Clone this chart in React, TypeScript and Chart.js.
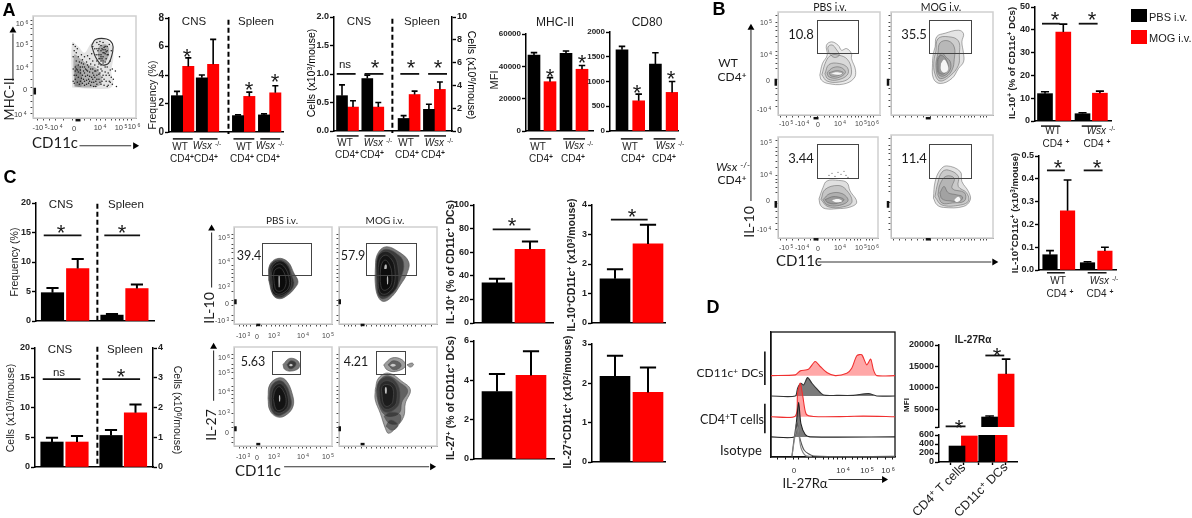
import React, { useEffect, useRef } from "react";
import { Chart, registerables } from "chart.js";
Chart.register(...registerables);

// ---------- bar data ----------
const aFreqBlack = [2.55, 3.8, 1.15, 1.2];
const aFreqRed = [4.6, 4.75, 2.5, 2.75];
const aFreqBlackErr = [2.85, 4.0, 1.2, 1.27];
const aFreqRedErr = [5.2, 6.5, 2.8, 3.25];
const aCellsCnsBlack = [0.62, 0.92];
const aCellsCnsRed = [0.42, 0.42];
const aCellsCnsBlackErr = [0.81, 0.98];
const aCellsCnsRedErr = [0.53, 0.5];
const aCellsSpleenBlack = [1.1, 1.9];
const aCellsSpleenRed = [3.2, 3.65];
const aCellsSpleenBlackErr = [1.35, 2.35];
const aCellsSpleenRedErr = [3.5, 4.3];
const aMhcBlack = [47000, 48000];
const aMhcRed = [30500, 38200];
const aMhcBlackErr = [48500, 49500];
const aMhcRedErr = [33000, 40500];
const aCd80Black = [1640, 1350];
const aCd80Red = [610, 780];
const aCd80BlackErr = [1710, 1580];
const aCd80RedErr = [745, 1000];
const bPctBlack = [12, 3.2];
const bPctRed = [39, 12.2];
const bPctBlackErr = [12.8, 3.6];
const bPctRedErr = [42.5, 13.1];
const bCellsBlack = [0.067, 0.032];
const bCellsRed = [0.26, 0.083];
const bCellsBlackErr = [0.085, 0.036];
const bCellsRedErr = [0.395, 0.1];
const cFreqBlack = [4.8, 1.0];
const cFreqRed = [8.9, 5.5];
const cFreqBlackErr = [5.6, 1.2];
const cFreqRedErr = [10.5, 6.2];
const cCellsCnsBlack = [4.2];
const cCellsCnsRed = [4.2];
const cCellsCnsBlackErr = [4.9];
const cCellsCnsRedErr = [5.2];
const cCellsSpleenBlack = [1.06];
const cCellsSpleenRed = [1.82];
const cCellsSpleenBlackErr = [1.24];
const cCellsSpleenRedErr = [2.1];
const cIl10PctBlack = [34];
const cIl10PctRed = [62.5];
const cIl10PctBlackErr = [37.5];
const cIl10PctRedErr = [69];
const cIl10CellsBlack = [1.5];
const cIl10CellsRed = [2.68];
const cIl10CellsBlackErr = [1.82];
const cIl10CellsRedErr = [3.33];
const cIl27PctBlack = [3.43];
const cIl27PctRed = [4.25];
const cIl27PctBlackErr = [4.32];
const cIl27PctRedErr = [5.48];
const cIl27CellsBlack = [2.18];
const cIl27CellsRed = [1.77];
const cIl27CellsBlackErr = [2.7];
const cIl27CellsRedErr = [2.4];
const dMfiBlack = [355, 3180];
const dMfiRed = [578, 13200];
const dMfiBlackErr: (number | null)[] = [null, 3420];
const dMfiRedErr: (number | null)[] = [null, 16700];

// ---------- flow data (plot units, 0-100 both ways) ----------
const aGate = [56.9, 71.1, 60.7, 76.9, 71.4, 77.4, 77.1, 72.7, 77.4, 65, 73.3, 53.6, 66.9, 52.1, 60.7, 59.9];
const aLayers = [
  [38, 30, 38, 74, 44, 70, 50, 64, 57, 74, 65, 78, 76, 72, 78, 60, 76, 45, 78, 33, 74, 29, 50, 29],
  [40, 31, 40, 62, 46, 58, 54, 52, 60, 50, 66, 42, 66, 33, 56, 30],
  [41, 31, 41, 52, 46, 50, 47, 31],
  [63, 60, 64, 70, 71, 72, 74, 66, 71, 56, 66, 56],
];
const aDots = [39,72,40,66,39,60,41,70,42,64,43,68,44,60,42,56,45,55,47,62,46,50,48,57,50,60,49,53,51,48,52,55,53,61,54,50,55,58,55,45,56,53,57,63,58,48,58,56,59,42,60,52,60,62,61,46,62,56,62,38,63,66,63,50,64,43,64,72,65,58,65,35,66,62,66,48,67,68,67,40,68,54,68,74,69,32,69,64,70,45,70,70,71,58,71,36,72,66,72,50,73,32,73,62,74,42,74,72,75,56,75,35,76,66,77,48,77,33,78,38,50,36,52,33,54,38,56,32,57,40,59,35,61,31,48,42,46,36,44,45,50,44,53,42,80,46,84,60,81,31,65,75,62,74,58,70,66,66,68,60,70,63,67,58,69,69,71,65,64,62,
  40,34,41,38,42,42,43,35,44,40,45,33,46,44,47,39,48,34,49,46,49,38,50,32,51,41,52,37,53,46,54,34,55,41,55,36,56,48,57,35,58,44,58,38,59,31,60,40,60,46,61,36,62,42,62,33,63,47,64,38,64,53,65,44,66,33,66,52,67,36,67,46,68,42,69,38,70,50,71,42,72,31,73,44,74,36,75,47,76,40,
  42,48,44,52,46,47,47,54,48,50,50,50,52,47,53,52,41,46,41,50,43,47,40,42,39,36,39,48,62,68,64,68,66,71,68,67,70,67,66,60,68,64,72,62,72,70,60,68,62,62,64,58,66,56,68,56,70,55];
const bWtPbs = [
  [41,38.7,43.6,50,48.2,58,47.5,67.7,52.5,71,59,67.7,62.3,62.9,67.2,64.5,72,59.7,72,54.8,76,43.5,74.4,35.5,64,30,49,30.6,42.6,33.9],
  [50,60,49,66,53,68,57,64,60,58,55,56],
  [43,39,47,52,52,58,60,58,68,54,72,44,70,36,60,32,48,33],
  [46,40,50,49,60,50,68,46,68,39,58,34,49,35],
  [48,41,54,46,62,46,66,41,58,36,50,37],
  [50,41,58,43,64,41,58,38,52,38],
];
const bWtPbsCore = [[52,40.5,58,41.5,63,40,58,39]];
const bWtMog = [
  [43.3,66.1,44.9,76.1,53.1,79.4,66.2,82.3,71.1,79,69.5,71,71.1,59.7,71.1,51.6,66.2,45.2,59.7,35.5,48.2,30.6,41.6,35.5,40.7,50,41.6,59.7],
  [44,62,46,74,56,76,66,72,67,58,66,48,58,38,48,33,43,40,42,52],
  [46,60,48,70,56,72,62,66,62,54,60,44,54,37,47,36,44,48],
  [46,56,50,60,54,56,58,52,58,44,52,38,47,39,45,48],
  [46,54,49,58,54,54,56,46,52,40,47,41,46,48],
];
const bWtMogCore = [[49,50,52,54,55,50,56,44,52,41,49,44]];
const bWsxPbs = [
  [41,38.7,45,50,49,56.5,60.7,57,68.9,54.8,72,46.8,78.7,35.5,72,30.6,59,29,47.5,29,42.6,32.3],
  [43,38,47,48,60,52,68,48,74,36,66,31,50,31],
  [45,38,52,44,64,44,70,37,60,32,49,33],
  [47,38,56,41,66,38,58,34,50,35],
];
const bWsxPbsCore = [[54,37.5,60,38.5,64,36.5,58,35.5]];
const bWsxPbsDots = [51,62,54,64,57,61,60,65,63,63,66,66,68,62,70,60];
const bWsxMog = [
  [41.6,38.7,43.3,54.8,48.2,66,54.7,70,67.9,64.5,69.5,54.8,76,45,77.7,37,71,30.6,51.5,29.7,45,32.3],
  [43,40,46,54,50,64,56,66,66,60,66,50,74,44,76,36,68,32,50,32],
  [46,42,48,52,54,60,62,58,60,48,72,44,72,36,60,34,50,34],
  [48,44,52,50,56,44,64,42,70,40,68,36,58,36,50,38],
];
const bWsxMogCore = [[62,37,66,40,68,37,64,35]];
const cIl10Pbs = [
  [35.4,45.4,36.4,60.8,44.9,67.6,55,64,61.2,52.2,65.3,43.7,61.9,36.9,55,30,46.6,26,39.8,30],
  [36,45,37,60,45,66,54,62,59,50,61,40,54,31,46,27,40,31],
  [38,42,38,58,46,65,54,61,58,50,58,38,52,31,44,29,39,33],
  [39,42,39,56,46,62,52,58,56,48,56,38,50,32,44,31,40,35],
  [41,42,41,54,46,58,50,55,53,46,52,38,48,34,43,35],
];
const cIl10PbsCore = [[45.5,38,45.5,50,46.6,50,46.6,38]];
const cIl10Mog = [
  [37,55.6,38.8,71,47.3,79.5,60.9,74.4,71,64.2,69.4,52.2,62.6,40.3,54,28.3,45.6,23.2,39.8,28.3,37,42],
  [38,50,40,70,48,77,62,70,66,62,64,50,56,34,46,26,40,30],
  [39,40,39,68,47,75,56,70,60,60,60,40,52,30,44,28,40,32],
  [40,42,41,64,47,71,54,66,57,56,56,40,50,32,44,31,41,35],
  [42,44,43,60,47,66,52,60,54,50,53,40,48,35,44,36],
];
const cIl10MogCore = [[46,57,47,61,48.5,61,48.5,57],[49,41,49,49,50,49,50,41]];
const cIl27Pbs = [
  [34.7,48.3,36.4,61.8,44.9,68.6,52.4,66.9,59.2,53.4,60.2,39.9,51.7,30.4,43.2,29.7,36.4,36.5],
  [36,48,38,60,45,66,52,63,57,52,58,40,50,32,43,31,38,37],
  [38,48,40,58,46,63,51,60,55,50,55,40,49,34,43,34,39,39],
  [40,48,42,56,46,60,50,56,53,48,52,40,47,36,43,37],
  [50,82.4,56.8,88.5,65.3,85.8,66.3,79,58.5,75.7,51.7,77.4],
  [54,82,58,86,63,84,62,80,57,78],
];
const cIl27PbsCore = [[46,45,46,51,47,51,47,45],[56,81.5,58,83,60,81.5,58,80.5]];
const cIl27Mog = [
  [37,56.8,40.4,68.6,50.6,73.6,64.3,65.2,72.8,56.8,67.7,43.3,66,29.7,57.5,17.9,50.6,12.8,47.3,17.9,42.2,33,37,46.6],
  [38,56,42,67,50,71,62,64,70,56,64,44,62,34,54,30,46,32,40,44],
  [39,50,40,64,50,70,60,62,62,46,58,38,48,34,42,40],
  [41,50,42,62,50,66,58,60,59,46,56,40,48,37,43,42],
  [44,50,44,60,50,62,55,58,55,46,53,42,48,40,45,44],
  [46,30,52,34,62,32,62,24,56,22,50,24],
  [48,20,52,26,58,24,60,20,54,16],
  [45.6,82,54,88.9,64.3,87.2,67.7,80.4,57.5,75.3,49,77],
  [50,82,55,86,62,84,63,80,56,77],
  [69.4,82,74.5,83.8,76,82,72.8,79.7],
];
const cIl27MogCore = [[47,53,47,59,48.5,59,48.5,53],[52,81.5,55,83,58,81.5,55,80]];

// ---------- histogram data (x, height in plot units) ----------
const histMogDc = [0,65.1,19.6,65.7,23.6,68.9,30.2,70.2,35.6,76.4,39.7,72.4,45,67.6,51.7,65.1,61.1,67,65.1,71,69.2,81,73.2,81.8,77.2,73.7,80.4,78.3,82.6,69.7,85.3,65.1,100,65.1];
const histPbsDc = [0,48.8,19.6,48.8,21.4,54.9,24.1,59,26.3,57.6,29.5,63.5,33,59,37,54.5,42.4,49.6,53.1,49.3,66.5,49.3,78.6,50.7,85.3,48.8,100,48.8];
const histMogT = [0,32.2,19.6,32.7,21.4,50.9,23.6,59,25.7,48.3,28.4,34.3,34.3,32.4,61.1,32.4,74.5,32.7,100,32.2];
const histPbsT = [0,16.1,18.8,16.1,20.4,26.8,22.3,43.7,24.1,26.8,27.6,18,31.6,16.1,100,16.1];
const histIso1 = [16.9,0.5,18.8,16,20.9,28.2,23,16,26.8,5.4,34.3,0.8,100,0.5];
const histIso2 = [16.9,0.5,19.6,18,21.6,24,24,8,28,1,33,0.5];

const flowXTicksB = [2,8,14,20,26,32,39,46,50,54,58,61,68,72,76,79,82,88,91,94];
const flowYTicksB = [8,14,20,26,34,45,50,55,58,62,70,76,82,86,90,97];
const flowXTicksC = [6,10,13,17,23,28,33,38,42,46,50,54,58,66,70,74,78,84,88,94];
const flowYTicksC = [4,9,19,24,33,44,48,52,56,60,68,74,78,82,88,92];
const histTicks = [5,12,18,22,30,36,42,46,50,54,58,60,66,70,74,78,80,86,92,98];

// ---------- helpers ----------
const toPts = (a: number[]) => {
  const o: { x: number; y: number }[] = [];
  for (let i = 0; i + 1 < a.length; i += 2) o.push({ x: a[i], y: a[i + 1] });
  return o;
};
const closed = (a: number[]) => { const p = toPts(a); return [...p, p[0]]; };
const FONT = "'Liberation Sans', Arial, sans-serif";
const HUM = "Lato, 'Open Sans', sans-serif";

const errPlugin = {
  id: "errBars",
  afterDatasetsDraw(chart: any) {
    const c = chart.ctx;
    chart.data.datasets.forEach((ds: any, i: number) => {
      if (!ds.errTop) return;
      const meta = chart.getDatasetMeta(i);
      const scale = chart.scales.y;
      meta.data.forEach((el: any, j: number) => {
        const v = ds.errTop[j];
        if (v == null) return;
        const y1 = scale.getPixelForValue(v);
        c.save();
        c.strokeStyle = "#000";
        c.lineWidth = ds.errWidth || 1.8;
        c.beginPath();
        c.moveTo(el.x, el.y);
        c.lineTo(el.x, y1);
        c.moveTo(el.x - ds.capHalf, y1);
        c.lineTo(el.x + ds.capHalf, y1);
        c.stroke();
        c.restore();
      });
    });
  },
};
const framePlugin = {
  id: "plotFrame",
  beforeDatasetsDraw(chart: any, _a: any, o: any) {
    if (!o || !o.color) return;
    const { left, top, width, height } = chart.chartArea;
    const c = chart.ctx;
    c.save();
    c.strokeStyle = o.color;
    c.lineWidth = o.width || 1.5;
    c.strokeRect(left, top, width, height);
    c.restore();
  },
};

type Spec = { left: number; top: number; w: number; h: number; config: any };

function barSpec(p: any): Spec {
  const ml = 36, mt = 8, mb = 8, mr = p.right ? 30 : 4;
  const fs = p.fs || 9;
  const pitch = p.pitch;
  const thick = p.thick;
  const xMin = (p.L - p.x0) / pitch, xMax = (p.R - p.x0) / pitch;
  const mk = (pos: number[], vals: number[], err: any, color: string) => ({
    data: pos.map((x, i) => ({ x, y: vals[i] })),
    backgroundColor: color,
    barThickness: thick,
    grouped: false,
    errTop: p.noErr ? null : err,
    capHalf: Math.max(2.5, thick * 0.27),
    errWidth: thick > 20 ? 2 : 1.6,
  });
  const fmt = (v: number) => (p.yMin && v === p.yMin ? "" : p.digits ? Number(v).toFixed(p.digits) : String(v));
  const yAxis = (ticks: number[], min: number, max: number, pos: string, w: number, format: any) => ({
    type: "linear", position: pos, min, max,
    afterBuildTicks: (s: any) => { s.ticks = ticks.map((value) => ({ value })); },
    afterFit: (s: any) => { s.width = w; },
    grid: { drawOnChartArea: false, drawTicks: true, tickLength: 4, tickColor: "#000", tickWidth: 1.4 },
    border: { color: "#000", width: 1.5 },
    ticks: { autoSkip: false, maxRotation: 0, padding: 1, color: "#222", font: { family: FONT, size: fs, weight: "bold" }, callback: format },
  });
  const scales: any = {
    x: {
      type: "linear", min: xMin, max: xMax,
      afterBuildTicks: (s: any) => { s.ticks = (p.xTicks || []).map((value: number) => ({ value })); },
      afterFit: (s: any) => { s.height = mb; },
      grid: { display: !!p.xTicks, drawOnChartArea: false, drawTicks: true, tickLength: 3, tickColor: "#000", tickWidth: 1.4 },
      border: { display: !p.noX, color: "#000", width: 1.5 },
      ticks: { display: false },
    },
    y: yAxis(p.ticks, p.yMin || 0, p.yMax, "left", ml, fmt),
  };
  if (p.right) scales.y1 = yAxis(p.right.ticks, 0, p.right.max, "right", mr, (v: number) => String(v));
  return {
    left: p.L - ml, top: p.T - mt, w: p.R - p.L + ml + mr, h: p.B - p.T + mt + mb,
    config: {
      type: "bar",
      data: { datasets: [mk(p.blackPos, p.black, p.blackErr, "#000"), mk(p.redPos, p.red, p.redErr, "#ff0000")] },
      options: {
        responsive: false, animation: false,
        layout: { padding: { top: mt, right: p.right ? 0 : mr, left: 0, bottom: 0 } },
        plugins: { legend: { display: false }, tooltip: { enabled: false } },
        scales,
      },
      plugins: [errPlugin],
    },
  };
}

function flowSpec(p: any): Spec {
  const ml = 5, mr = 2, mt = 2, mb = 5;
  const ds: any[] = [];
  const push = (d: any) => { d.order = 1000 - ds.length; ds.push(d); };
  (p.fills || []).forEach((f: any) => push({ data: closed(f.pts), showLine: true, tension: 0.35, pointRadius: 0, borderWidth: 0, borderColor: "transparent", backgroundColor: f.color, fill: "shape" }));
  (p.rings || []).forEach((r: number[]) => push({ data: closed(r), showLine: true, tension: 0.4, pointRadius: 0, borderWidth: 0.7, borderColor: p.stroke || "rgba(95,95,95,.75)", backgroundColor: p.fill || "rgba(60,60,60,.1)", fill: "shape" }));
  (p.core || []).forEach((r: number[]) => push({ data: closed(r), showLine: true, tension: 0.4, pointRadius: 0, borderWidth: 0, borderColor: "transparent", backgroundColor: p.coreColor || "rgba(255,255,255,.9)", fill: "shape" }));
  if (p.dots) push({ data: toPts(p.dots), showLine: false, pointRadius: p.dotR || 0.7, pointBorderWidth: 0, pointBackgroundColor: p.dotColor || "#777" });
  (p.gates || []).forEach((g: any) => push({ data: closed(g), showLine: true, tension: 0.3, pointRadius: 0, borderWidth: 1.1, borderColor: "#333", fill: false }));
  const axis = (ticks: number[], isX: boolean) => ({
    type: "linear", min: 0, max: 100, position: isX ? "bottom" : "left",
    afterBuildTicks: (s: any) => { s.ticks = ticks.map((value) => ({ value })); },
    afterFit: (s: any) => { if (isX) s.height = mb; else s.width = ml; },
    grid: { drawOnChartArea: false, drawTicks: true, tickLength: 2.5, tickColor: "#333", tickWidth: 0.9 },
    border: { color: p.axisColor || "#888", width: 1 },
    ticks: { display: false, autoSkip: false },
  });
  return {
    left: p.L - ml, top: p.T - mt, w: p.W + ml + mr, h: p.H + mt + mb,
    config: {
      type: "scatter",
      data: { datasets: ds },
      options: {
        responsive: false, animation: false,
        layout: { padding: { top: mt, right: mr, left: 0, bottom: 0 } },
        plugins: { legend: { display: false }, tooltip: { enabled: false }, plotFrame: { color: p.frame || "#cfcfcf", width: p.frameW || 1.5 } },
        scales: { x: axis(p.xTicks, true), y: axis(p.yTicks, false) },
      },
      plugins: [framePlugin],
    },
  };
}

function histSpec(): Spec {
  const L = 771, T = 332, W = 124, H = 125, ml = 3, mr = 2, mt = 2, mb = 5;
  const line = (a: number[], color: string, base: number | null, bg: string, w = 1.1) => ({
    data: toPts(a), showLine: true, tension: 0.25, pointRadius: 0, borderWidth: w, borderColor: color,
    backgroundColor: bg, fill: base == null ? false : { value: base },
  });
  return {
    left: L - ml, top: T - mt, w: W + ml + mr, h: H + mt + mb,
    config: {
      type: "scatter",
      data: {
        datasets: [
          line(histIso2, "#888", null, "transparent"),
          line(histIso1, "#555", null, "transparent"),
          line(histPbsT, "#222", 16.1, "rgba(90,90,90,.8)"),
          line(histMogT, "#f03030", 32.2, "rgba(255,70,70,.5)"),
          line(histPbsDc, "#333", 48.8, "rgba(90,90,90,.8)"),
          line(histMogDc, "#f03030", 65.1, "rgba(255,80,80,.5)"),
        ],
      },
      options: {
        responsive: false, animation: false,
        layout: { padding: { top: mt, right: mr, left: 0, bottom: 0 } },
        plugins: { legend: { display: false }, tooltip: { enabled: false }, plotFrame: { color: "#111", width: 1.3 } },
        scales: {
          x: {
            type: "linear", min: 0, max: 100,
            afterBuildTicks: (s: any) => { s.ticks = histTicks.map((value) => ({ value })); },
            afterFit: (s: any) => { s.height = mb; },
            grid: { drawOnChartArea: false, tickLength: 2.5, tickColor: "#111", tickWidth: 1 },
            border: { color: "#111", width: 1.3 },
            ticks: { display: false, autoSkip: false },
          },
          y: {
            type: "linear", min: 0, max: 100,
            afterFit: (s: any) => { s.width = ml; },
            grid: { display: false },
            border: { color: "#111", width: 1.3 },
            ticks: { display: false },
          },
        },
      },
      plugins: [framePlugin],
    },
  };
}

// ---------- annotation lines (page coordinates) ----------
const BK = "#111";
const underlines = [
  [170,190,137],[197,215,137],[231,252,137],[258,278,137],
  [335,357,134],[363,384,134],[396,418,134],[423,445,134],
  [529,551,137],[563,585,137],[621,643,137],[654,676,137],
  [1044,1063,124],[1085,1105,124],[1050,1068,273],[1091,1110,273],
];
const sigBars = [
  [335,354,71],[363,382,71],[399,418,71],[427,446,71],
  [1045,1063,20],[1082,1101,20],[1050,1068,169],[1087,1106,169],
  [40,78,235],[101,137,235],[39,77,381],[99,137,381],
  [492,530,229],[611,648,219],[948,968,429],[988,1007,357],
];
const dashed = [[226,16,132],[391,15,131],[94,203,321],[94,348,467]];
const thinLines = [
  [9,78,9,30],[76,144,128,144],
  [752,200,752,26],[819,262,994,262],
  [209,288,209,232],[211,403,211,352],[282,470,428,470],
  [830,483,884,483],
];
const thickLines = [
  [766,353,766,387],[766,406,766,436],
];
const zeroMarks = [
  [31,85,31,92],[72,118,77,118],
  [777,76,777,83],[815,116,820,116],[890,76,890,83],[928,116,933,116],
  [777,200,777,207],[815,239,820,239],[890,200,890,207],[928,239,933,239],
  [233,300,233,305],[254,326,258,326],[338,300,338,305],[359,326,363,326],
  [233,429,233,434],[254,447,258,447],[338,429,338,434],[359,447,363,447],
];
const arrowHeads = [
  [9,27,0],[132,144,90],[752,24,0],[997,262,90],[209,228,0],[211,348,0],[431,470,90],[886,483,90],
];

function overlaySpec(): Spec {
  const seg = (x1: number, y1: number, x2: number, y2: number, w: number, color = BK, dash: number[] = []) => ({
    data: [{ x: x1, y: y1 }, { x: x2, y: y2 }], showLine: true, pointRadius: 0, borderWidth: w, borderColor: color, borderDash: dash, tension: 0, fill: false,
  });
  const ds: any[] = [];
  underlines.forEach(([a, b, y]) => ds.push(seg(a, y, b, y, 1.5)));
  sigBars.forEach(([a, b, y]) => ds.push(seg(a, y, b, y, 1.8)));
  dashed.forEach(([x, a, b]) => ds.push(seg(x, a, x, b, 2, "#000", [5, 3])));
  thinLines.forEach(([a, b, c, d]) => ds.push(seg(a, b, c, d, 1.1, "#333")));
  thickLines.forEach(([a, b, c, d]) => ds.push(seg(a, b, c, d, 1.6)));
  zeroMarks.forEach(([a, b, c, d]) => ds.push(seg(a, b, c, d, 2.5, "#111")));
  arrowHeads.forEach(([x, y, r]) => ds.push({ data: [{ x, y }], showLine: false, pointStyle: "triangle", pointRotation: r, pointRadius: 4, pointBackgroundColor: "#000", pointBorderWidth: 0 }));
  return {
    left: 0, top: 0, w: 1192, h: 518,
    config: {
      type: "scatter",
      data: { datasets: ds },
      options: {
        responsive: false, animation: false,
        layout: { padding: 0 },
        plugins: { legend: { display: false }, tooltip: { enabled: false } },
        scales: { x: { type: "linear", display: false, min: 0, max: 1192 }, y: { type: "linear", display: false, min: 0, max: 518, reverse: true } },
      },
    },
  };
}

const SPECS: Spec[] = [
  barSpec({ L: 169, R: 283, T: 18, B: 132, x0: 177, pitch: 11.3, thick: 11.3, fs: 10, blackPos: [0, 2.2, 5.4, 7.7], redPos: [1, 3.2, 6.4, 8.7], black: aFreqBlack, red: aFreqRed, blackErr: aFreqBlackErr, redErr: aFreqRedErr, yMax: 8, ticks: [0, 2, 4, 6, 8] }),
  barSpec({ L: 334, R: 452, T: 17, B: 131, x0: 342, pitch: 11, thick: 11, digits: 1, blackPos: [0, 2.3, 5.6, 7.9], redPos: [1, 3.3, 6.6, 8.9],
    black: [...aCellsCnsBlack, ...aCellsSpleenBlack.map((v) => v / 5)], red: [...aCellsCnsRed, ...aCellsSpleenRed.map((v) => v / 5)],
    blackErr: [...aCellsCnsBlackErr, ...aCellsSpleenBlackErr.map((v) => v / 5)], redErr: [...aCellsCnsRedErr, ...aCellsSpleenRedErr.map((v) => v / 5)],
    yMax: 2, ticks: [0, 0.5, 1, 1.5, 2], right: { max: 10, ticks: [0, 2, 4, 6, 8, 10] } }),
  barSpec({ L: 526, R: 593, T: 34, B: 131, x0: 534, pitch: 16, thick: 12, fs: 8, blackPos: [0, 2], redPos: [1, 3], black: aMhcBlack, red: aMhcRed, blackErr: aMhcBlackErr, redErr: aMhcRedErr, yMax: 60000, ticks: [0, 20000, 40000, 60000] }),
  barSpec({ L: 610, R: 678, T: 32, B: 131, x0: 622, pitch: 16.7, thick: 12, fs: 8, blackPos: [0, 2], redPos: [1, 3], black: aCd80Black, red: aCd80Red, blackErr: aCd80BlackErr, redErr: aCd80RedErr, yMax: 2000, ticks: [0, 500, 1000, 1500, 2000] }),
  barSpec({ L: 1035, R: 1111, T: 7, B: 121, x0: 1045, pitch: 18.3, thick: 15, blackPos: [0, 2.05], redPos: [1, 3], black: bPctBlack, red: bPctRed, blackErr: bPctBlackErr, redErr: bPctRedErr, yMax: 50, ticks: [0, 10, 20, 30, 40, 50] }),
  barSpec({ L: 1039, R: 1116, T: 156, B: 270, x0: 1050, pitch: 18.3, thick: 14.5, digits: 1, blackPos: [0, 2.05], redPos: [0.96, 3], black: bCellsBlack, red: bCellsRed, blackErr: bCellsBlackErr, redErr: bCellsRedErr, yMax: 0.5, ticks: [0, 0.1, 0.2, 0.3, 0.4, 0.5] }),
  barSpec({ L: 36, R: 154, T: 203, B: 321, x0: 52.5, pitch: 25.2, thick: 22.5, blackPos: [0, 2.36], redPos: [1, 3.35], black: cFreqBlack, red: cFreqRed, blackErr: cFreqBlackErr, redErr: cFreqRedErr, yMax: 20, ticks: [0, 5, 10, 15, 20] }),
  barSpec({ L: 35, R: 153, T: 348, B: 467, x0: 52, pitch: 25, thick: 22.5, blackPos: [0, 2.36], redPos: [1, 3.34],
    black: [...cCellsCnsBlack, ...cCellsSpleenBlack.map((v) => v * 5)], red: [...cCellsCnsRed, ...cCellsSpleenRed.map((v) => v * 5)],
    blackErr: [...cCellsCnsBlackErr, ...cCellsSpleenBlackErr.map((v) => v * 5)], redErr: [...cCellsCnsRedErr, ...cCellsSpleenRedErr.map((v) => v * 5)],
    yMax: 20, ticks: [0, 5, 10, 15, 20], right: { max: 4, ticks: [0, 1, 2, 3, 4] } }),
  barSpec({ L: 474, R: 553, T: 205, B: 323, x0: 497, pitch: 33, thick: 30, blackPos: [0], redPos: [1], black: cIl10PctBlack, red: cIl10PctRed, blackErr: cIl10PctBlackErr, redErr: cIl10PctRedErr, yMax: 100, ticks: [0, 20, 40, 60, 80, 100] }),
  barSpec({ L: 592, R: 665, T: 205, B: 323, x0: 615, pitch: 33, thick: 30, blackPos: [0], redPos: [1], black: cIl10CellsBlack, red: cIl10CellsRed, blackErr: cIl10CellsBlackErr, redErr: cIl10CellsRedErr, yMax: 4, ticks: [0, 1, 2, 3, 4] }),
  barSpec({ L: 474, R: 554, T: 341, B: 459, x0: 497, pitch: 34, thick: 30, blackPos: [0], redPos: [1], black: cIl27PctBlack, red: cIl27PctRed, blackErr: cIl27PctBlackErr, redErr: cIl27PctRedErr, yMax: 6, ticks: [0, 2, 4, 6] }),
  barSpec({ L: 592, R: 665, T: 344, B: 462, x0: 615, pitch: 33, thick: 30, blackPos: [0], redPos: [1], black: cIl27CellsBlack, red: cIl27CellsRed, blackErr: cIl27CellsBlackErr, redErr: cIl27CellsRedErr, yMax: 3, ticks: [0, 1, 2, 3] }),
  barSpec({ L: 939, R: 1017, T: 345, B: 427, x0: 950, pitch: 16.5, thick: 16, noX: true, blackPos: [0, 2.4], redPos: [1, 3.4], black: dMfiBlack, red: dMfiRed, blackErr: dMfiBlackErr, redErr: dMfiRedErr, yMin: 845, yMax: 20000, ticks: [845, 5000, 10000, 15000, 20000] }),
  barSpec({ L: 939, R: 1017, T: 435, B: 462, x0: 950, pitch: 16.5, thick: 16, noErr: true, blackPos: [0, 2.4], redPos: [1, 3.4], black: dMfiBlack, red: dMfiRed, yMax: 600, ticks: [0, 200, 400, 600], xTicks: [0, 1, 2.4, 3.4] }),
  flowSpec({ L: 33, T: 14, W: 105, H: 104, xTicks: [4,10,16,22,30,38,44,50,56,62,66,70,76,80,84,88,92,96], yTicks: [4,10,16,22,30,38,46,54,60,66,70,76,82,88,92,96],
    fills: [
      { pts: aLayers[0], color: "rgba(205,205,205,.55)" },
      { pts: aLayers[1], color: "rgba(110,110,110,.45)" },
      { pts: aLayers[2], color: "rgba(130,130,130,.8)" },
      { pts: aLayers[3], color: "rgba(110,110,110,.5)" },
    ], dots: aDots, dotColor: "#1c1c1c", dotR: 0.75, gates: [aGate] }),
  flowSpec({ L: 778, T: 12, W: 102, H: 103, xTicks: flowXTicksB, yTicks: flowYTicksB, rings: bWtPbs, core: bWtPbsCore }),
  flowSpec({ L: 891, T: 12, W: 102, H: 103, xTicks: flowXTicksB, yTicks: flowYTicksB, rings: bWtMog, core: bWtMogCore, fill: "rgba(50,50,50,.13)" }),
  flowSpec({ L: 778, T: 135, W: 102, H: 103, xTicks: flowXTicksB, yTicks: flowYTicksB, rings: bWsxPbs, core: bWsxPbsCore, dots: bWsxPbsDots, fill: "rgba(50,50,50,.15)" }),
  flowSpec({ L: 891, T: 135, W: 102, H: 103, xTicks: flowXTicksB, yTicks: flowYTicksB, rings: bWsxMog, core: bWsxMogCore, fill: "rgba(50,50,50,.14)" }),
  flowSpec({ L: 234, T: 227, W: 98, H: 97, xTicks: flowXTicksC, yTicks: flowYTicksC, rings: cIl10Pbs, core: cIl10PbsCore, fill: "rgba(10,10,10,.62)", stroke: "rgba(80,80,80,.9)", coreColor: "rgba(210,210,210,.8)" }),
  flowSpec({ L: 339, T: 227, W: 98, H: 97, xTicks: flowXTicksC, yTicks: flowYTicksC, rings: cIl10Mog, core: cIl10MogCore, fill: "rgba(10,10,10,.55)", stroke: "rgba(80,80,80,.9)", coreColor: "rgba(215,215,215,.85)" }),
  flowSpec({ L: 234, T: 347, W: 98, H: 99, xTicks: flowXTicksC, yTicks: flowYTicksC, rings: cIl27Pbs, core: cIl27PbsCore, fill: "rgba(10,10,10,.55)", stroke: "rgba(80,80,80,.9)", coreColor: "rgba(220,220,220,.85)" }),
  flowSpec({ L: 339, T: 347, W: 98, H: 99, xTicks: flowXTicksC, yTicks: flowYTicksC, rings: cIl27Mog, core: cIl27MogCore, fill: "rgba(10,10,10,.4)", stroke: "rgba(80,80,80,.9)", coreColor: "rgba(220,220,220,.85)" }),
  histSpec(),
  overlaySpec(),
];

// gate rectangles are plain page boxes over the plots
const gateRects = [
  [817,20,42,34],[929,20,43,34],[817,144,42,35],[929,144,43,35],
  [262,243,50,33],[366,243,51,33],[272,351,29,24],[376,351,30,24],
];

// ---------- text ----------
type L = { x: number; y: number; t: string; s?: number; a?: string; f?: string; b?: boolean; c?: string; r?: number };
const sp = (s: string, b = false) => `<span style="font-size:.68em;position:relative;top:-.42em;${b ? "font-weight:bold;" : ""}">${s}</span>`;
const CD4 = `CD4${sp("+", true)}`;
const WSX = `<i>Wsx</i> ${sp("-/-")}`;
const labels: L[] = [];
const T = (x: number, y: number, t: string, s = 11, o: Partial<L> = {}) => labels.push({ x, y, t, s, ...o });
const star = (x: number, y: number) => T(x, y + 5, "*", 22);
const ten = (e: string, neg = false) => `${neg ? "-" : ""}10${sp("&nbsp;" + e)}`;
const groupLabels = (rows: [number, string, number][]) => rows.forEach(([x, t, y]) => T(x, y, t, 10, { c: "#222" }));

"ABCD".split("").forEach((ch, i) => {
  const pos = [[9, 10], [719, 9], [10, 177], [713, 307]][i];
  T(pos[0], pos[1], ch, 18, { b: true, c: "#000" });
});
// panel A
T(9, 99, "MHC-II", 13, { r: -90, f: HUM });
T(55, 142, "CD11c", 15, { f: HUM });
[[22, 24, ten("6")], [22, 45, ten("5")], [22, 68, ten("4")], [25, 90, "0"], [19, 115, ten("4", true)], [40, 128, ten("5", true)], [55, 128, ten("4", true)], [74, 129, "0"], [100, 128, ten("4")], [121, 128, ten("5")], [134, 127, ten("6")]].forEach(([x, y, t]) => T(x as number, y as number, t as string, 7.5, { c: "#444" }));
T(194, 22, "CNS", 11.5); T(256, 22, "Spleen", 11.5);
T(152, 95, "Frequency (%)", 10.5, { r: -90 });
star(187, 52); star(249, 85); star(275, 77);
groupLabels([[180, "WT", 147], [182, CD4, 159], [207, WSX, 146], [206, CD4, 159], [244, "WT", 147], [242, CD4, 159], [270, WSX, 146], [268, CD4, 159]]);
T(359, 22, "CNS", 11.5); T(422, 22, "Spleen", 11.5);
T(312, 73, `Cells (x10${sp("3")}/mouse)`, 10.5, { r: -90, c: "#000" });
T(471, 75, `Cells (x10${sp("6")}/mouse)`, 10.5, { r: 90, c: "#000" });
T(345, 65, "ns", 11.5);
star(375, 63); star(411, 63); star(438, 63);
groupLabels([[345, "WT", 143], [347, CD4, 155], [378, WSX, 143], [372, CD4, 155], [406, "WT", 143], [407, CD4, 155], [439, WSX, 143], [433, CD4, 155]]);
T(555, 22, "MHC-II", 12); T(647, 22, "CD80", 12);
T(494, 80, "MFI", 11, { r: -90 });
star(550, 72); star(582, 58); star(637, 88); star(671, 74);
groupLabels([[538, "WT", 147], [541, CD4, 159], [579, WSX, 146], [573, CD4, 159], [630, "WT", 147], [633, CD4, 159], [670, WSX, 146], [664, CD4, 159]]);
// panel B
T(830, 7, "PBS i.v.", 10.5, { f: HUM }); T(941, 7, "MOG i.v.", 10.5, { f: HUM });
T(801, 34, "10.8", 13, { f: HUM }); T(914, 34, "35.5", 13, { f: HUM });
T(801, 158, "3.44", 13, { f: HUM }); T(914, 158, "11.4", 13, { f: HUM });
T(728, 63, "WT", 12, { f: HUM }); T(732, 77, CD4, 12, { f: HUM });
T(733, 167, WSX, 12, { f: HUM }); T(732, 180, CD4, 12, { f: HUM });
T(749, 222, "IL-10", 14, { r: -90, f: HUM });
T(799, 260, "CD11c", 15, { f: HUM });
[[0, 0], [0, 124]].forEach(([, dy]) => {
  [[766, 23, ten("5")], [766, 55, ten("4")], [768, 80, "0"], [764, 110, ten("4", true)]].forEach(([x, y, t]) => T(x as number, (y as number) + dy * 0.97, t as string, 7, { c: "#444" }));
  [[786, ten("5", true)], [802, ten("4", true)], [818, "0"], [840, ten("4")], [861, ten("5")], [873, ten("6")]].forEach(([x, t]) => T(x as number, 124 + dy, t as string, 7, { c: "#444" }));
});
T(1012, 63, `IL-10${sp("+")} (% of CD11c${sp("+")} DCs)`, 9.5, { r: -90, b: true, c: "#222" });
T(1015, 213, `IL-10${sp("+")}CD11c${sp("+")} (x10${sp("3")}/mouse)`, 9.5, { r: -90, b: true, c: "#222" });
star(1055, 15); star(1092, 15); star(1058, 163); star(1097, 163);
groupLabels([[1053, "WT", 131], [1056, `CD4 ${sp("+", true)}`, 144], [1101, WSX, 131], [1097, `CD4 ${sp("+", true)}`, 144], [1058, "WT", 281], [1060, `CD4 ${sp("+", true)}`, 294], [1104, WSX, 281], [1100, `CD4 ${sp("+", true)}`, 294]]);
T(1149, 17, "PBS i.v.", 11, { a: "l" }); T(1149, 38, "MOG i.v.", 11, { a: "l" });
// panel C
T(61, 205, "CNS", 11.5); T(126, 205, "Spleen", 11.5);
T(14, 262, "Frequency (%)", 10.5, { r: -90, c: "#222" });
star(61, 228); star(122, 228);
T(60, 350, "CNS", 11.5); T(125, 350, "Spleen", 11.5);
T(59, 373, "ns", 11.5); star(121, 372);
T(11, 408, `Cells (x10${sp("3")}/mouse)`, 10.5, { r: -90, c: "#222" });
T(177, 410, `Cells (x10${sp("6")}/mouse)`, 10.5, { r: 90, c: "#222" });
T(282, 220, "PBS i.v.", 10, { f: HUM }); T(385, 220, "MOG i.v.", 10, { f: HUM });
T(249, 256, "39.4", 12.5, { f: HUM }); T(353, 256, "57.9", 12.5, { f: HUM });
T(253, 362, "5.63", 12.5, { f: HUM }); T(356, 362, "4.21", 12.5, { f: HUM });
T(209, 308, "IL-10", 14, { r: -90, f: HUM }); T(211, 425, "IL-27", 14, { r: -90, f: HUM });
T(258, 470, "CD11c", 15, { f: HUM });
[[224, 238, ten("5")], [224, 262, ten("4")], [224, 287, ten("3")], [227, 303, "0"], [222, 321, ten("3", true)], [224, 358, ten("6")], [224, 373, ten("5")], [224, 392, ten("4")], [224, 413, ten("3")], [227, 432, "0"]].forEach(([x, y, t]) => T(x as number, y as number, t as string, 7, { c: "#444" }));
[336, 457].forEach((y) => [[243, ten("3", true)], [257, "0"], [274, ten("3")], [303, ten("4")], [328, ten("5")]].forEach(([x, t]) => T(x as number, y, t as string, 7, { c: "#444" })));
T(451, 262, `IL-10${sp("+")} (% of CD11c${sp("+")} DCs)`, 10.5, { r: -90, b: true, c: "#222" });
T(572, 265, `IL-10${sp("+")}CD11c${sp("+")} (x10${sp("3")}/mouse)`, 10.5, { r: -90, b: true, c: "#222" });
T(451, 398, `IL-27${sp("+")} (% of CD11c${sp("+")} DCs)`, 10.5, { r: -90, b: true, c: "#222" });
T(568, 402, `IL-27${sp("+")}CD11c${sp("+")} (x10${sp("2")}/mouse)`, 10.5, { r: -90, b: true, c: "#222" });
star(512, 221); star(632, 212);
// panel D
T(730, 373, `CD11c${sp("+")} DCs`, 12, { f: HUM }); T(732, 420, `CD4${sp("+")}T cells`, 12.5, { f: HUM }); T(741, 450, "Isotype", 13, { f: HUM });
T(794, 471, "0", 8, { c: "#333" }); T(843, 471, ten("4"), 8, { c: "#333" }); T(867, 471, ten("5"), 8, { c: "#333" }); T(888, 471, ten("6"), 8, { c: "#333" });
T(805, 483, "IL-27Rα", 13, { f: HUM });
T(973, 340, "IL-27Rα", 10, { b: true, c: "#222" });
T(907, 405, "MFI", 8, { r: -90, b: true });
star(959, 423); star(997, 351);
T(939, 490, `CD4${sp("+")} T cells`, 12.5, { r: -45 }); T(981, 490, `CD11c${sp("+")} DCs`, 12.5, { r: -45 });

export default function App() {
  const refs = useRef<(HTMLCanvasElement | null)[]>([]);
  useEffect(() => {
    document.body.style.margin = "0";
    const charts = SPECS.map((s, i) => new Chart(refs.current[i] as HTMLCanvasElement, s.config));
    return () => charts.forEach((c) => c.destroy());
  }, []);
  return (
    <div style={{ position: "fixed", left: 0, top: 0, width: 1192, height: 518, overflow: "hidden", background: "#fff", fontFamily: FONT }}>
      {SPECS.map((s, i) => (
        <canvas key={i} ref={(el) => { refs.current[i] = el; }} width={s.w} height={s.h}
          style={{ position: "absolute", left: s.left, top: s.top, width: s.w, height: s.h }} />
      ))}
      {gateRects.map(([x, y, w, h], i) => (
        <div key={i} style={{ position: "absolute", left: x, top: y, width: w, height: h, border: "1.3px solid #444", boxSizing: "border-box" }} />
      ))}
      <div style={{ position: "absolute", left: 1131, top: 9, width: 16, height: 13, background: "#000" }} />
      <div style={{ position: "absolute", left: 1131, top: 30, width: 16, height: 14, background: "#ff0000" }} />
      {labels.map((l, i) => {
        const ax = l.a === "l" ? "0" : "-50%";
        return (
          <div key={i} dangerouslySetInnerHTML={{ __html: l.t }} style={{
            position: "absolute", left: l.x, top: l.y, whiteSpace: "nowrap", lineHeight: 1,
            fontSize: l.s, fontFamily: l.f || FONT, fontWeight: l.b ? "bold" : "normal", color: l.c || "#1a1a1a",
            transform: `translate(${ax},-50%) rotate(${l.r || 0}deg)`,
          }} />
        );
      })}
    </div>
  );
}
